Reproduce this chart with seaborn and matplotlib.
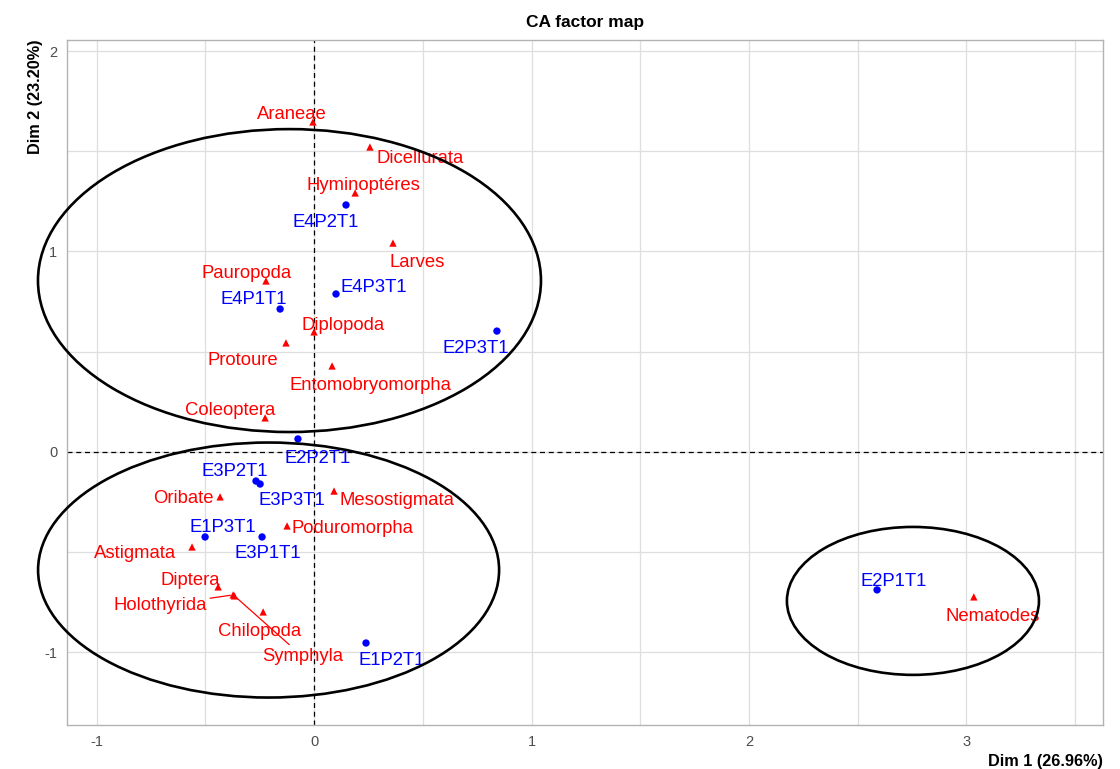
import matplotlib
matplotlib.use("Agg")
import matplotlib.pyplot as plt
from matplotlib.patches import Ellipse
from matplotlib.ticker import MultipleLocator
import pandas as pd
import seaborn as sns

# row points (samples)
row_names = ["E4P2T1", "E4P3T1", "E4P1T1", "E2P3T1", "E2P2T1", "E3P2T1",
             "E3P3T1", "E1P3T1", "E3P1T1", "E1P2T1", "E2P1T1"]
row_dim1 = [0.147, 0.101, -0.156, 0.841, -0.074, -0.267,
            -0.248, -0.501, -0.239, 0.239, 2.589]
row_dim2 = [1.232, 0.788, 0.713, 0.603, 0.065, -0.145,
            -0.160, -0.424, -0.424, -0.953, -0.688]

# column points (taxa)
col_names = ["Araneae", "Dicellurata", "Hyminoptéres", "Larves", "Pauropoda",
             "Diplopoda", "Protoure", "Entomobryomorpha", "Coleoptera",
             "Oribate", "Mesostigmata", "Poduromorpha", "Astigmata", "Diptera",
             "Holothyrida", "Chilopoda", "Symphyla", "Nematodes"]
col_dim1 = [-0.005, 0.257, 0.189, 0.363, -0.221,
            0.0, -0.129, 0.083, -0.225,
            -0.432, 0.092, -0.124, -0.561, -0.441,
            -0.372, -0.234, -0.366, 3.034]
col_dim2 = [1.646, 1.521, 1.292, 1.042, 0.853,
            0.599, 0.544, 0.429, 0.170,
            -0.224, -0.195, -0.369, -0.474, -0.673,
            -0.713, -0.798, -0.718, -0.723]

# label offsets in pixels (dx right, dy up)
label_offsets = {
    "E4P2T1": (-20, -15), "E4P3T1": (38, 9), "E4P1T1": (-26, 12),
    "E2P3T1": (-21, -15), "E2P2T1": (20, -17), "E3P2T1": (-21, 12),
    "E3P3T1": (32, -14), "E1P3T1": (18, 12), "E3P1T1": (6, -14),
    "E1P2T1": (26, -15), "E2P1T1": (17, 11),
    "Araneae": (-21, 10), "Dicellurata": (50, -9), "Hyminoptéres": (8, 10),
    "Larves": (24, -17), "Pauropoda": (-19, 10), "Diplopoda": (29, 9),
    "Protoure": (-43, -15), "Entomobryomorpha": (38, -17),
    "Coleoptera": (-35, 10), "Oribate": (-37, 1), "Mesostigmata": (63, -7),
    "Poduromorpha": (65, 0), "Astigmata": (-57, -4), "Diptera": (-28, 9),
    "Holothyrida": (-73, -8), "Chilopoda": (-4, -17), "Symphyla": (68, -58),
    "Nematodes": (19, -17),
}
with_segment = ["Holothyrida", "Symphyla"]

# hand-drawn ellipses: (center x, center y, width, height)
ellipses = [(-0.113, 0.855, 2.313, 1.511),
            (-0.209, -0.589, 2.12, 1.272),
            (2.754, -0.743, 1.159, 0.738)]

df = pd.concat([
    pd.DataFrame({"name": row_names, "dim1": row_dim1, "dim2": row_dim2, "type": "row"}),
    pd.DataFrame({"name": col_names, "dim1": col_dim1, "dim2": col_dim2, "type": "col"}),
], ignore_index=True)

sns.set_theme(style="white")
plt.rcParams["font.family"] = ["Liberation Sans", "DejaVu Sans"]
plt.rcParams["axes.unicode_minus"] = False

dpi = 100
fig = plt.figure(figsize=(11.2, 7.69), dpi=dpi)
ax = fig.add_axes([67 / 1120, 1 - 725 / 769, (1103 - 67) / 1120, (725 - 40) / 769])

ax.set_xlim(-1.136, 3.628)
ax.set_ylim(-1.362, 2.055)
ax.xaxis.set_major_locator(MultipleLocator(1))
ax.yaxis.set_major_locator(MultipleLocator(1))
ax.xaxis.set_minor_locator(MultipleLocator(0.5))
ax.yaxis.set_minor_locator(MultipleLocator(0.5))
ax.grid(True, which="both", color="#DEDEDE", lw=0.9)
ax.set_axisbelow(True)
for sp in ax.spines.values():
    sp.set_color("#B3B3B3")
    sp.set_linewidth(1)
ax.tick_params(which="major", length=4, width=0.8, color="#B3B3B3",
               labelcolor="#4D4D4D", labelsize=10.5, pad=3)
ax.tick_params(which="minor", length=0)

ax.axhline(0, color="black", lw=0.9, ls=(0, (4, 3)), zorder=1.5)
ax.axvline(0, color="black", lw=0.9, ls=(0, (4, 3)), zorder=1.5)

sns.scatterplot(data=df, x="dim1", y="dim2", hue="type", style="type",
                palette={"row": "blue", "col": "red"},
                markers={"row": "o", "col": "^"},
                s=28, linewidth=0, legend=False, ax=ax, zorder=3)

colors = {"row": "blue", "col": "red"}
for _, r in df.iterrows():
    dx, dy = label_offsets[r["name"]]
    dy = dy - 2.5
    arrow = None
    if r["name"] in with_segment:
        arrow = dict(arrowstyle="-", color="red", lw=0.9, shrinkA=0, shrinkB=2)
    ax.annotate(r["name"], (r["dim1"], r["dim2"]),
                xytext=(dx * 72 / dpi, dy * 72 / dpi), textcoords="offset points",
                ha="center", va="center", color=colors[r["type"]],
                fontsize=13.3, arrowprops=arrow, zorder=4)

for cx, cy, w, h in ellipses:
    ax.add_patch(Ellipse((cx, cy), w, h, fill=False, ec="black", lw=1.9,
                         zorder=5, clip_on=False))

ax.set_title("CA factor map", fontsize=12.5, fontweight="bold", color="black", pad=9)
ax.set_xlabel("Dim 1 (26.96%)", loc="right", fontsize=11.7, fontweight="bold",
              color="black", labelpad=4)
ax.set_ylabel("Dim 2 (23.20%)", loc="top", fontsize=11.7, fontweight="bold",
              color="black", labelpad=1)

fig.savefig("out.png", dpi=dpi)
plt.close(fig)
